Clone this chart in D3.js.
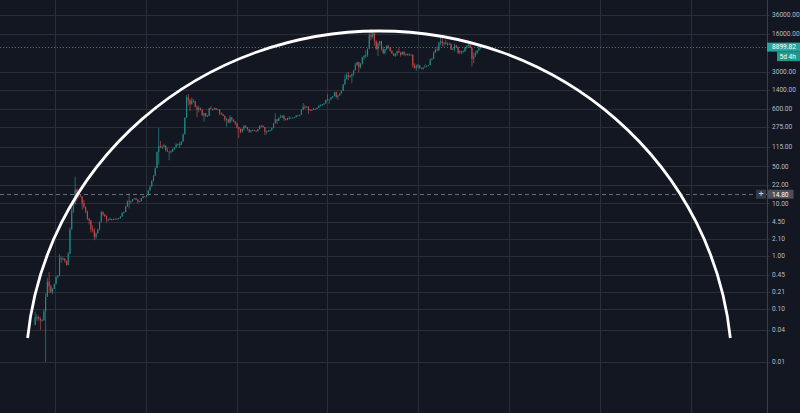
<!DOCTYPE html>
<html lang="en">
<head>
    <meta charset="UTF-8">
    <title>btc log arc</title>
    <script type="text/javascript" src="https://d3js.org/d3.v7.min.js"></script>
    <style>
        body { margin: 0; background: #131722; }
        svg { display: block; }
    </style>
</head>
<body>
<svg class="chart"></svg>

<script type="text/javascript">

    const width = 800;
    const height = 413;
    const paneRight = 767;

    // two-week candles, open = previous close
    const firstPeriod = "2010-07-19";
    const periodDays = 14;
    const firstOpen = 0.05;

    const closes = [
        0.07, 0.07, 0.065, 0.062, 0.062, 0.09, 0.17, 0.33, 0.27, 0.21, 0.24, 0.3,
        0.4, 0.42, 0.92, 0.88, 0.9, 0.82, 0.68, 1.1, 3.2, 7.2, 9.6, 18, 16, 14, 13.5, 10, 8.5, 7, 5.1, 4.7, 3.2, 3.1, 2.3, 2.7, 3.2, 4.5,
        6.8, 6.1, 5.7, 4.9, 4.9, 5.0, 4.9, 5.0, 5.1, 5.0, 5.2, 5.6, 6.6, 6.8, 8.7, 10.8, 11, 10.8, 11.9, 12.4, 11.7, 10.7, 10.9, 12.5, 13.5, 13.4,
        14.1, 17.4, 20.6, 26.5, 33, 46, 93, 120, 115, 115, 122, 100, 95, 95, 94, 105, 113, 128, 130, 126, 146, 200, 410, 1000, 880, 740,
        860, 840, 660, 590, 630, 585, 460, 500, 445, 445, 625, 600, 595, 630, 590, 590, 500, 480, 450, 385, 385, 335, 420, 380, 350, 320,
        270, 250, 225, 255, 285, 270, 250, 225, 235, 240, 235, 230, 250, 290, 290, 275, 225, 230, 230, 240, 265, 325, 385, 360, 415, 420,
        450, 390, 375, 405, 410, 410, 415, 420, 455, 455, 470, 580, 660, 650, 660, 580, 575, 575, 610, 605, 635, 700, 705, 735, 765, 895,
        900, 920, 1000, 1050, 1250, 1030, 1080, 1180, 1330, 1750, 2200, 2650, 2450, 2550, 2760, 3250, 4100, 4600, 3700, 4350, 5700, 6150, 6300, 8200, 15000, 13800,
        16200, 11500, 8200, 10400, 11500, 8200, 6900, 8100, 9300, 8700, 7500, 6750, 6100, 6750, 7400, 7000, 6400, 7300, 6500, 6600, 6300, 6350, 6400, 4000, 3600, 3950,
        4000, 3550, 3450, 3650, 3800, 3950, 4050, 5100, 5300, 6950, 8000, 7700, 10800, 11400, 10600, 10900, 10300, 10300, 10300, 8050, 8300, 9550, 9000, 7000, 7500, 7500,
        7350, 8700, 9300, 9900, 8550, 5350, 5900, 6900, 7700, 8750, 8899.82
    ];

    const highs = [
        0.09, 0.08, 0.075, 0.07, 0.065, 0.1, 0.2, 0.39, 0.5, 0.29, 0.25, 0.3,
        0.42, 0.44, 1.1, 0.99, 0.95, 0.92, 0.82, 1.2, 3.5, 8.5, 10, 31.9, 19, 16, 14.5, 13.5, 11.5, 8.6, 7.2, 5.3, 4.8, 3.8, 3.4, 2.8, 3.3, 4.5,
        7.2, 7, 6.3, 5.9, 5.1, 5.4, 5.1, 5.1, 5.2, 5.1, 5.3, 5.7, 6.7, 7.0, 8.9, 11.3, 15.4, 11.2, 12, 12.6, 12.4, 11.9, 11.1, 12.6, 13.6, 13.6,
        14.2, 17.9, 21, 27.5, 34, 47, 95, 266, 150, 125, 133, 125, 112, 96, 100, 108, 115, 136, 133, 142, 148, 210, 420, 1100, 1160, 930,
        1000, 940, 850, 700, 700, 640, 590, 510, 510, 460, 630, 680, 610, 650, 630, 600, 595, 520, 490, 450, 410, 390, 460, 420, 385, 360,
        330, 280, 260, 260, 300, 300, 275, 255, 240, 245, 245, 235, 255, 300, 300, 298, 275, 235, 245, 240, 270, 330, 500, 390, 420, 470,
        460, 460, 400, 410, 440, 420, 420, 425, 465, 460, 470, 590, 780, 720, 690, 680, 600, 600, 630, 615, 640, 720, 740, 750, 780, 900,
        1150, 925, 1010, 1060, 1270, 1290, 1110, 1210, 1340, 1800, 2700, 2900, 3000, 2650, 2800, 3300, 4480, 4750, 4700, 4450, 5850, 6200, 7850, 8500, 17000, 19700,
        17200, 16300, 12000, 11000, 11700, 11700, 9200, 8200, 9700, 9900, 8900, 7800, 6900, 6700, 7600, 8500, 7150, 7350, 7400, 6800, 6700, 6900, 6600, 6450, 4400, 4200,
        4250, 4100, 3650, 3700, 4200, 4000, 4100, 5400, 5600, 7500, 8400, 9100, 11200, 13900, 13200, 11100, 12300, 10950, 10900, 10400, 8600, 10400, 9900, 9100, 7800, 7600,
        7700, 9000, 9600, 10500, 10200, 9200, 7000, 7450, 7800, 9500, 9900
    ];

    const lows = [
        0.05, 0.06, 0.06, 0.04, 0.058, 0.06, 0.01, 0.17, 0.2, 0.2, 0.19, 0.24,
        0.29, 0.38, 0.42, 0.75, 0.83, 0.75, 0.66, 0.68, 1.1, 3.2, 6.5, 9.5, 11, 12.5, 13, 7.5, 8, 6.5, 4.8, 4, 2.8, 2.8, 2, 2.1, 2.7, 3.1,
        4.5, 5.8, 5.4, 4.3, 4.6, 4.8, 4.7, 4.8, 4.9, 4.9, 5.0, 5.2, 5.6, 6.4, 6.8, 8.6, 8, 9.8, 10.8, 11.8, 11.5, 9.8, 10.5, 10.9, 12.4, 13.0,
        13.4, 14, 17.4, 20.6, 26, 33, 46, 54, 110, 105, 115, 95, 94, 65, 87, 94, 102, 113, 122, 110, 125, 145, 200, 410, 700, 550,
        730, 800, 650, 420, 520, 560, 440, 345, 420, 425, 445, 600, 560, 590, 580, 575, 460, 470, 440, 350, 280, 330, 320, 350, 340, 300,
        260, 170, 210, 215, 235, 265, 235, 215, 215, 230, 230, 220, 225, 250, 270, 270, 195, 200, 225, 225, 235, 260, 320, 310, 355, 405,
        410, 360, 365, 370, 380, 405, 405, 410, 420, 440, 435, 470, 580, 610, 650, 480, 560, 560, 575, 590, 600, 630, 680, 690, 725, 760,
        890, 750, 880, 950, 1050, 950, 890, 1070, 1180, 1320, 1750, 2150, 2100, 2350, 1840, 2500, 3250, 3950, 2980, 3500, 4200, 5100, 5500, 5800, 9000, 12000,
        12800, 9500, 7900, 6000, 9300, 7600, 6500, 6500, 7900, 8400, 7300, 6700, 6100, 5800, 6100, 6900, 5900, 6300, 6100, 6100, 6150, 6200, 6250, 3600, 3500, 3150,
        3550, 3500, 3400, 3350, 3700, 3700, 3900, 4050, 5000, 5300, 6900, 7500, 7600, 9700, 9100, 9100, 9900, 9350, 9900, 7800, 7800, 7300, 8900, 6600, 6500, 6500,
        6850, 7300, 8250, 9100, 8500, 3800, 4400, 5850, 6500, 7600, 8100
    ];

    const priceTicks = [36000, 16000, 3000, 1400, 600, 275, 115, 50, 22, 10, 4.5, 2.1, 1, 0.45, 0.21, 0.1, 0.04, 0.01];
    const lastPrice = 8899.82;
    const barCountdown = "5d 4h";
    const crosshairPrice = 14.80;

    // arc drawing anchors (date / price)
    const arcCenter = {date: "2018-02-20", price: 0.00647};
    const arcLeftDate = "2010-05-12";
    const arcTopPrice = 17950;
    const arcEndPrice = 0.0284;

    const upColor = "#26a69a";
    const downColor = "#ef5350";
    const gridColor = "#2a2e39";
    const textColor = "#b8bbc4";

    let svg = d3.select(".chart")
        .attr("width", width)
        .attr("height", height)
        .style("font-family", "Roboto, 'Liberation Sans', sans-serif");

    svg.append("rect").attr("width", width).attr("height", height).attr("fill", "#131722");

    let scaleX = d3.scaleUtc()
        .domain([new Date("2009-10-16"), new Date("2026-09-08")])
        .range([0, paneRight]);

    let scaleY = d3.scaleLog()
        .domain([0.01, 36000])
        .range([362, 15]);

    let candles = closes.map(function (c, i) {
        let start = d3.utcDay.offset(new Date(firstPeriod), i * periodDays);
        return {
            date: start,
            mid: d3.utcDay.offset(start, periodDays / 2),
            open: i === 0 ? firstOpen : closes[i - 1],
            high: highs[i],
            low: lows[i],
            close: c
        };
    });

    drawGrid(svg);
    drawCandles(svg);
    drawLines(svg);
    drawArc(svg);
    drawAxis(svg);

    function drawGrid(svg) {
        let g = svg.append("g");
        let years = d3.utcYear.range(scaleX.domain()[0], scaleX.domain()[1])
            .filter(d => d.getUTCFullYear() % 2 === 1);

        g.selectAll(".vgrid").data(years).enter().append("line")
            .attr("x1", d => Math.round(scaleX(d)) + 0.5)
            .attr("x2", d => Math.round(scaleX(d)) + 0.5)
            .attr("y1", 0)
            .attr("y2", height)
            .attr("stroke", gridColor);

        g.selectAll(".hgrid").data(priceTicks).enter().append("line")
            .attr("x1", 0)
            .attr("x2", paneRight + 3)
            .attr("y1", d => Math.round(scaleY(d)) + 0.5)
            .attr("y2", d => Math.round(scaleY(d)) + 0.5)
            .attr("stroke", gridColor);
    }

    function drawCandles(svg) {
        let g = svg.append("g").attr("opacity", 0.82);

        g.selectAll("line").data(candles).enter().append("line")
            .attr("x1", d => scaleX(d.mid))
            .attr("x2", d => scaleX(d.mid))
            .attr("y1", d => scaleY(d.high))
            .attr("y2", d => scaleY(d.low))
            .attr("stroke", d => d.close >= d.open ? upColor : downColor)
            .attr("stroke-width", 0.7);

        g.selectAll("rect").data(candles).enter().append("rect")
            .attr("x", d => scaleX(d.mid) - 0.55)
            .attr("width", 1.1)
            .attr("y", d => scaleY(Math.max(d.open, d.close)))
            .attr("height", d => Math.max(0.8, Math.abs(scaleY(d.open) - scaleY(d.close))))
            .attr("fill", d => d.close >= d.open ? upColor : downColor);
    }

    function drawLines(svg) {
        let g = svg.append("g");
        // last price line
        g.append("line")
            .attr("x1", 0).attr("x2", paneRight)
            .attr("y1", Math.round(scaleY(lastPrice)) + 0.5)
            .attr("y2", Math.round(scaleY(lastPrice)) + 0.5)
            .attr("stroke", upColor)
            .attr("stroke-opacity", 0.8)
            .attr("stroke-dasharray", "1,2");

        // crosshair
        g.append("line")
            .attr("x1", 0).attr("x2", paneRight)
            .attr("y1", Math.round(scaleY(crosshairPrice)) + 0.5)
            .attr("y2", Math.round(scaleY(crosshairPrice)) + 0.5)
            .attr("stroke", "#6a6e79")
            .attr("stroke-dasharray", "4,3");
    }

    function drawArc(svg) {
        let cx = scaleX(new Date(arcCenter.date));
        let cy = scaleY(arcCenter.price);
        let rx = cx - scaleX(new Date(arcLeftDate));
        let ry = cy - scaleY(arcTopPrice);
        let yEnd = scaleY(arcEndPrice);
        let t0 = Math.asin((cy - yEnd) / ry);
        let dx = rx * Math.cos(t0);

        svg.append("path")
            .attr("d", "M" + (cx - dx) + "," + yEnd +
                " A" + rx + "," + ry + " 0 0 1 " + (cx + dx) + "," + yEnd)
            .attr("fill", "none")
            .attr("stroke", "#ffffff")
            .attr("stroke-width", 2.8);
    }

    function drawAxis(svg) {
        let g = svg.append("g");

        g.append("line")
            .attr("x1", paneRight + 0.5).attr("x2", paneRight + 0.5)
            .attr("y1", 0).attr("y2", height)
            .attr("stroke", "#3a3e4a");

        g.selectAll("text").data(priceTicks).enter().append("text")
            .attr("x", paneRight + 5)
            .attr("y", d => scaleY(d))
            .attr("dy", "0.35em")
            .attr("fill", textColor)
            .style("font-size", "6.6px")
            .text(d => d3.format(".2f")(d));

        // last price label + countdown
        let yl = scaleY(lastPrice);
        g.append("rect")
            .attr("x", paneRight).attr("y", yl - 4.5)
            .attr("width", width - paneRight).attr("height", 9)
            .attr("fill", upColor);
        g.append("text")
            .attr("x", paneRight + 5).attr("y", yl).attr("dy", "0.35em")
            .attr("fill", "#ffffff").style("font-size", "6.6px")
            .text(d3.format(".2f")(lastPrice));
        g.append("rect")
            .attr("x", paneRight + 10).attr("y", yl + 4.5)
            .attr("width", width - paneRight - 10).attr("height", 9.5)
            .attr("fill", "#24968b");
        g.append("text")
            .attr("x", paneRight + 12.5).attr("y", yl + 9.25).attr("dy", "0.35em")
            .attr("fill", "#ffffff").style("font-size", "6.6px")
            .text(barCountdown);

        // crosshair label + button
        let yc = scaleY(crosshairPrice);
        g.append("rect")
            .attr("x", paneRight + 0.5).attr("y", yc - 4.5)
            .attr("width", 26).attr("height", 9)
            .attr("fill", "#4c505b");
        g.append("text")
            .attr("x", paneRight + 5).attr("y", yc).attr("dy", "0.35em")
            .attr("fill", "#ffffff").style("font-size", "6.6px")
            .text(d3.format(".2f")(crosshairPrice));
        g.append("rect")
            .attr("x", paneRight - 11).attr("y", yc - 4.5)
            .attr("width", 10).attr("height", 9)
            .attr("fill", "#363a45");
        g.append("text")
            .attr("x", paneRight - 6).attr("y", yc).attr("dy", "0.35em")
            .attr("text-anchor", "middle")
            .attr("fill", "#d1d4dc").style("font-size", "9px")
            .text("+");
    }

</script>

</body>
</html>
